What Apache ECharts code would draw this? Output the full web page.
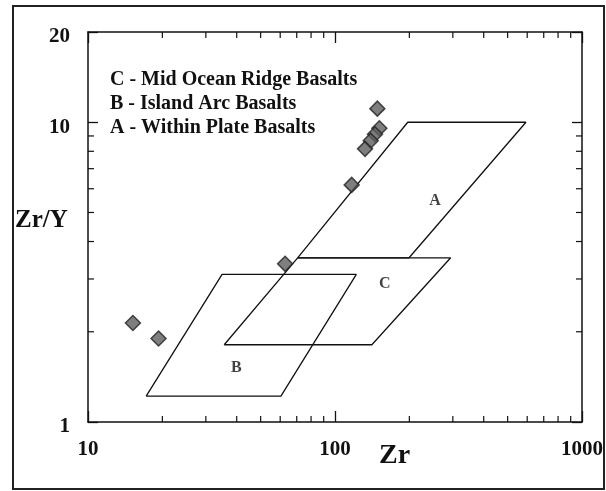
<!DOCTYPE html>
<html>
<head>
<meta charset="utf-8">
<script src="https://cdn.jsdelivr.net/npm/echarts@6/dist/echarts.min.js"></script>
<style>
html,body{margin:0;padding:0;background:#fff;}
#chart{width:606px;height:491px;}
</style>
</head>
<body>
<div id="chart"></div>
<script>
// ---- data ----
const samplesZr  = [148.4, 151.2, 145.2, 139.5, 132.3, 116.8, 62.8, 15.2, 19.3];
const samplesZrY = [11.1, 9.55, 9.12, 8.68, 8.15, 6.18, 3.37, 2.14, 1.90];

const fieldA = [[70.6,3.53],[197,10],[593,10],[199.5,3.53],[70.6,3.53]];
const fieldC = [[35.6,1.81],[70.6,3.53],[294,3.53],[141,1.81],[35.6,1.81]];
const fieldB = [[17.2,1.22],[34.9,3.11],[122,3.11],[60.4,1.22],[17.2,1.22]];

const fieldLabelNames = ['A','C','B'];
const fieldLabelPos = [[254,5.45],[158.9,2.88],[39.9,1.51]];

const legendLines = ['C - Mid Ocean Ridge Basalts','B - Island Arc Basalts','A - Within Plate Basalts'];

const xMinorTicks = [20,30,40,50,60,70,80,90,200,300,400,500,600,700,800,900];
const yMinorTicks = [2,3,4,5,6,7,8,9];
const xRange = [10, 1000];
const yRange = [1, 20];

// ---- chart ----
const FONT = '"Liberation Serif","Times New Roman",serif';
const INK = '#111';
const chart = echarts.init(document.getElementById('chart'), null, {renderer:'canvas'});

const tickData = xMinorTicks.map(v => [v, yRange[0], 0]).concat(yMinorTicks.map(v => [xRange[0], v, 1]));

function polygon(data){
  return {type:'line', data:data, symbol:'none', silent:true, animation:false,
          lineStyle:{color:INK, width:1.3}, z:3};
}

const labelFmt = v => String(+(+v).toPrecision(3));

const option = {
  backgroundColor:'#fff',
  animation:false,
  grid:{left:88, top:32, width:494, height:390, containLabel:false},
  xAxis:[
    {type:'log', logBase:10, min:xRange[0], max:xRange[1], position:'bottom',
     axisLine:{show:true, lineStyle:{color:INK, width:1.5}},
     axisTick:{show:true, inside:true, length:11, lineStyle:{color:INK, width:1.3}},
     axisLabel:{show:true, margin:17, color:INK, fontFamily:FONT, fontWeight:'bold', fontSize:21,
                formatter:labelFmt, showMinLabel:true, showMaxLabel:true},
     splitLine:{show:false}, minorTick:{show:false}},
    {type:'log', logBase:10, min:xRange[0], max:xRange[1], position:'top',
     axisLine:{show:true, lineStyle:{color:INK, width:1.5}},
     axisTick:{show:true, inside:true, length:11, lineStyle:{color:INK, width:1.3}},
     axisLabel:{show:false}, splitLine:{show:false}}
  ],
  yAxis:[
    {type:'log', logBase:10, min:yRange[0], max:yRange[1], position:'left',
     axisLine:{show:true, lineStyle:{color:INK, width:1.5}},
     axisTick:{show:true, inside:true, length:10, lineStyle:{color:INK, width:1.3}},
     axisLabel:{show:true, margin:18, color:INK, fontFamily:FONT, fontWeight:'bold', fontSize:21,
                verticalAlign:'top', lineHeight:10, formatter:labelFmt, showMinLabel:true, showMaxLabel:true},
     splitLine:{show:false}},
    {type:'log', logBase:10, min:yRange[0], max:yRange[1], position:'right',
     axisLine:{show:true, lineStyle:{color:INK, width:1.5}},
     axisTick:{show:true, inside:true, length:10, lineStyle:{color:INK, width:1.3}},
     axisLabel:{show:false}, splitLine:{show:false}}
  ],
  series:[
    {type:'custom', data:tickData, silent:true, animation:false, z:4,
     encode:{x:0, y:1},
     renderItem:function(params, api){
       const kind = api.value(2);
       const r = params.coordSys;
       const L = 6;
       const st = {stroke:INK, lineWidth:1.2};
       if (kind === 0) {
         const x = api.coord([api.value(0), yRange[0]])[0];
         return {type:'group', children:[
           {type:'line', shape:{x1:x, y1:r.y+r.height, x2:x, y2:r.y+r.height-L}, style:st},
           {type:'line', shape:{x1:x, y1:r.y, x2:x, y2:r.y+L}, style:st}
         ]};
       } else {
         const y = api.coord([xRange[0], api.value(1)])[1];
         return {type:'group', children:[
           {type:'line', shape:{x1:r.x, y1:y, x2:r.x+L, y2:y}, style:st},
           {type:'line', shape:{x1:r.x+r.width, y1:y, x2:r.x+r.width-L, y2:y}, style:st}
         ]};
       }
     }},
    polygon(fieldA),
    polygon(fieldC),
    polygon(fieldB),
    {type:'scatter', symbol:'diamond', symbolSize:15, z:5, silent:true, animation:false,
     data:samplesZr.map((x,i) => [x, samplesZrY[i]]),
     itemStyle:{color:'#5e5e5e', borderColor:'#222', borderWidth:1.5}},
    {type:'scatter', symbolSize:0, silent:true, animation:false, z:6,
     data:fieldLabelNames.map((n,i) => ({name:n, value:fieldLabelPos[i]})),
     label:{show:true, position:'inside', formatter:'{b}', color:INK,
            fontFamily:FONT, fontWeight:'bold', fontSize:16}}
  ],
  graphic:[
    {type:'rect', shape:{x:13, y:6, width:591, height:483},
     style:{fill:'none', stroke:'#222', lineWidth:2}, silent:true},
    {type:'text', left:15, top:208,
     style:{text:'Zr/Y', fill:INK, font:'bold 25px '+FONT}},
    {type:'text', left:379, top:442,
     style:{text:'Zr', fill:INK, font:'bold 28px '+FONT}},
    {type:'group', left:110, top:70, children: legendLines.map((t,i) => ({
      type:'text', x:0, y:i*24,
      style:{text:t, fill:INK, font:'bold 20px '+FONT}
    }))}
  ]
};
chart.setOption(option);
</script>
</body>
</html>
